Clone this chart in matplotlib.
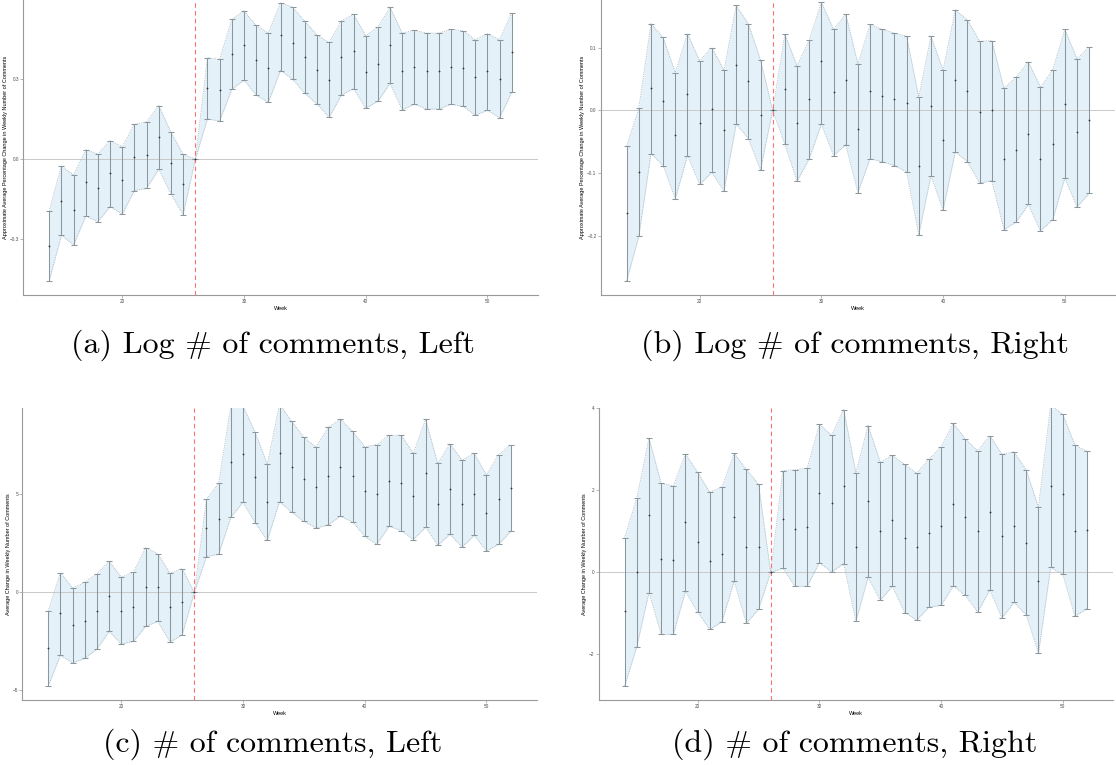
import numpy as np
import matplotlib
matplotlib.use("Agg")
import matplotlib.pyplot as plt

weeks = [14, 15, 16, 17, 18, 19, 20, 21, 22, 23, 24, 25, 26, 27, 28, 29, 30, 31, 32, 33,
         34, 35, 36, 37, 38, 39, 40, 41, 42, 43, 44, 45, 46, 47, 48, 49, 50, 51, 52]

# (a) Log # of comments, Left
est_a = [-0.324, -0.155, -0.190, -0.086, -0.107, -0.052, -0.077, 0.007, 0.015, 0.085, -0.015, -0.094, 0.0,
         0.267, 0.259, 0.393, 0.427, 0.372, 0.342, 0.465, 0.435, 0.382, 0.334, 0.296, 0.382, 0.405, 0.326,
         0.356, 0.428, 0.329, 0.346, 0.332, 0.331, 0.347, 0.341, 0.306, 0.329, 0.299, 0.400]
hi_a = [-0.193, -0.025, -0.059, 0.036, 0.020, 0.070, 0.047, 0.131, 0.140, 0.201, 0.101, 0.019, 0.0,
        0.380, 0.374, 0.524, 0.555, 0.501, 0.472, 0.586, 0.569, 0.516, 0.465, 0.437, 0.518, 0.543, 0.462,
        0.494, 0.569, 0.472, 0.483, 0.472, 0.472, 0.486, 0.481, 0.447, 0.470, 0.447, 0.549]
lo_a = [-0.455, -0.284, -0.321, -0.213, -0.233, -0.177, -0.205, -0.117, -0.109, -0.037, -0.130, -0.208, 0.0,
        0.151, 0.143, 0.262, 0.296, 0.240, 0.213, 0.332, 0.299, 0.247, 0.206, 0.157, 0.240, 0.264, 0.191,
        0.217, 0.284, 0.185, 0.206, 0.188, 0.188, 0.206, 0.198, 0.165, 0.183, 0.155, 0.251]

# (b) Log # of comments, Right
est_b = [-0.164, -0.099, 0.035, 0.015, -0.040, 0.026, -0.020, 0.002, -0.032, 0.072, 0.047, -0.008, 0.0,
         0.034, -0.021, 0.018, 0.078, 0.029, 0.049, -0.029, 0.031, 0.023, 0.018, 0.011, -0.088, 0.007, -0.047,
         0.048, 0.031, -0.003, 0.001, -0.078, -0.063, -0.037, -0.078, -0.054, 0.010, -0.035, -0.015]
hi_b = [-0.057, 0.003, 0.138, 0.116, 0.060, 0.122, 0.079, 0.100, 0.064, 0.167, 0.138, 0.080, 0.0,
        0.121, 0.071, 0.112, 0.172, 0.129, 0.153, 0.074, 0.137, 0.129, 0.123, 0.118, 0.021, 0.118, 0.064,
        0.160, 0.144, 0.110, 0.111, 0.035, 0.053, 0.077, 0.037, 0.064, 0.129, 0.082, 0.101]
lo_b = [-0.272, -0.201, -0.069, -0.088, -0.141, -0.072, -0.118, -0.099, -0.128, -0.022, -0.045, -0.095, 0.0,
        -0.054, -0.113, -0.077, -0.022, -0.072, -0.055, -0.131, -0.077, -0.082, -0.088, -0.098, -0.198, -0.104,
        -0.159, -0.066, -0.082, -0.116, -0.112, -0.190, -0.178, -0.150, -0.192, -0.174, -0.108, -0.154, -0.132]

# (c) # of comments, Left
est_c = [-2.86, -1.07, -1.68, -1.45, -0.97, -0.20, -0.94, -0.73, 0.27, 0.26, -0.77, -0.48, 0.0,
         3.30, 3.76, 6.65, 7.04, 5.87, 4.61, 7.13, 6.41, 5.77, 5.36, 5.94, 6.38, 5.92, 5.15,
         5.02, 5.70, 5.58, 4.90, 6.11, 4.49, 5.29, 4.52, 5.02, 4.07, 4.75, 5.34]
hi_c = [-0.94, 1.00, 0.22, 0.51, 0.94, 1.58, 0.78, 1.02, 2.28, 1.97, 0.97, 1.21, 0.0,
        4.75, 5.56, 9.50, 9.50, 8.16, 6.53, 9.60, 8.72, 7.91, 7.40, 8.42, 8.83, 8.21, 7.43,
        7.53, 8.01, 8.01, 7.09, 8.83, 6.57, 7.57, 6.74, 7.08, 5.99, 7.02, 7.53]
lo_c = [-4.78, -3.21, -3.59, -3.37, -2.89, -1.99, -2.64, -2.50, -1.74, -1.48, -2.53, -2.18, 0.0,
        1.82, 1.94, 3.83, 4.59, 3.54, 2.65, 4.63, 4.08, 3.62, 3.28, 3.44, 3.88, 3.59, 2.86,
        2.45, 3.37, 3.15, 2.69, 3.32, 2.40, 2.96, 2.30, 2.91, 2.11, 2.45, 3.11]

# (d) # of comments, Right
est_d = [-0.95, 0.00, 1.39, 0.33, 0.30, 1.22, 0.74, 0.29, 0.44, 1.36, 0.63, 0.63, 0.0,
         1.30, 1.07, 1.10, 1.93, 1.68, 2.10, 0.61, 1.74, 1.01, 1.27, 0.83, 0.62, 0.97, 1.13,
         1.67, 1.35, 1.00, 1.46, 0.88, 1.12, 0.72, -0.20, 2.11, 1.90, 1.01, 1.03]
hi_d = [0.85, 1.81, 3.27, 2.17, 2.11, 2.89, 2.44, 1.95, 2.08, 2.90, 2.51, 2.15, 0.0,
        2.48, 2.50, 2.54, 3.61, 3.34, 3.97, 2.42, 3.58, 2.69, 2.85, 2.63, 2.42, 2.76, 3.06,
        3.63, 3.25, 2.96, 3.33, 2.88, 2.94, 2.49, 1.59, 4.08, 3.85, 3.10, 2.95]
lo_d = [-2.77, -1.81, -0.49, -1.51, -1.51, -0.46, -0.97, -1.39, -1.20, -0.21, -1.24, -0.90, 0.0,
        0.10, -0.34, -0.34, 0.24, 0.01, 0.21, -1.19, -0.12, -0.68, -0.34, -0.98, -1.16, -0.85, -0.80,
        -0.33, -0.56, -0.97, -0.43, -1.11, -0.73, -1.04, -1.97, 0.12, -0.05, -1.07, -0.88]

xticks = [20, 30, 40, 50]
treat_week = 26
ylabel_log = "Approximate Average Percentage Change in Weekly Number of Comments"
ylabel_lin = "Average Change in Weekly Number of Comments"
captions = ["(a) Log # of comments, Left", "(b) Log # of comments, Right",
            "(c) # of comments, Left", "(d) # of comments, Right"]

plt.rcParams["font.family"] = ["Liberation Sans", "DejaVu Sans"]

W, H = 1116, 765
fig = plt.figure(figsize=(W / 100, H / 100), dpi=100)


def px_rect(left, top, right, bottom):
    return [left / W, 1 - bottom / H, (right - left) / W, (bottom - top) / H]


def panel(rect, est, lo, hi, ylim, yticks, ytlabels, ylabel):
    ax = fig.add_axes(rect)
    est = np.asarray(est)
    lo = np.asarray(lo)
    hi = np.asarray(hi)
    ax.fill_between(weeks, lo, hi, color="#e5f1f8", lw=0, zorder=1)
    ax.plot(weeks, hi, ls=(0, (1, 1.2)), color="#a2b4be", lw=0.6, zorder=2)
    ax.plot(weeks, lo, ls=(0, (1, 1.2)), color="#a2b4be", lw=0.6, zorder=2)
    ax.axhline(0, color="#c9c9c9", lw=0.7, zorder=1.5)
    ax.axvline(treat_week, color="#ff7070", ls=(0, (4, 3)), lw=0.8, zorder=3)
    ax.errorbar(weeks, est, yerr=[est - lo, hi - est], fmt="none", ecolor="#8a979e",
                elinewidth=0.75, capsize=2.3, capthick=0.75, zorder=4)
    ax.plot(weeks, est, "o", ms=1.3, color="#333333", mec="none", zorder=5)
    ax.set_xlim(11.87, 54.13)
    ax.set_ylim(*ylim)
    ax.set_xticks(xticks)
    ax.set_xticklabels([str(t) for t in xticks])
    ax.set_yticks(yticks)
    ax.set_yticklabels(ytlabels)
    for s in ("top", "right"):
        ax.spines[s].set_visible(False)
    for s in ("left", "bottom"):
        ax.spines[s].set_color("#999999")
        ax.spines[s].set_linewidth(0.8)
    ax.tick_params(length=2, width=0.5, color="#999999", labelsize=3.4,
                   labelcolor="#4d4d4d", pad=1)
    ax.set_xlabel("Week", fontsize=4, labelpad=1.5)
    ax.set_ylabel(ylabel, fontsize=4, labelpad=1.5)
    ax.patch.set_alpha(0)
    return ax


M = "\u2212"
panel(px_rect(23.3, 0, 537.7, 295), est_a, lo_a, hi_a, (-0.508, 0.596),
      [-0.3, 0.0, 0.3], [M + "0.3", "0.0", "0.3"], ylabel_log)
panel(px_rect(600.7, 0, 1115.1, 295), est_b, lo_b, hi_b, (-0.2942, 0.1757),
      [-0.2, -0.1, 0.0, 0.1], [M + "0.2", M + "0.1", "0.0", "0.1"], ylabel_log)
panel(px_rect(22.3, 408, 536.7, 700), est_c, lo_c, hi_c, (-5.49, 9.40),
      [-5, 0, 5], [M + "5", "0", "5"], ylabel_lin)
panel(px_rect(598.7, 408, 1113.1, 700), est_d, lo_d, hi_d, (-3.11, 4.007),
      [-2, 0, 2, 4], [M + "2", "0", "2", "4"], ylabel_lin)

cap_font = dict(fontsize=23, family=["cmr10", "DejaVu Serif"], ha="center", va="center")
fig.text(273 / W, 1 - 345 / H, captions[0], **cap_font)
fig.text(855 / W, 1 - 345 / H, captions[1], **cap_font)
fig.text(273 / W, 1 - 744 / H, captions[2], **cap_font)
fig.text(855 / W, 1 - 744 / H, captions[3], **cap_font)

fig.savefig("out.png", dpi=100)
